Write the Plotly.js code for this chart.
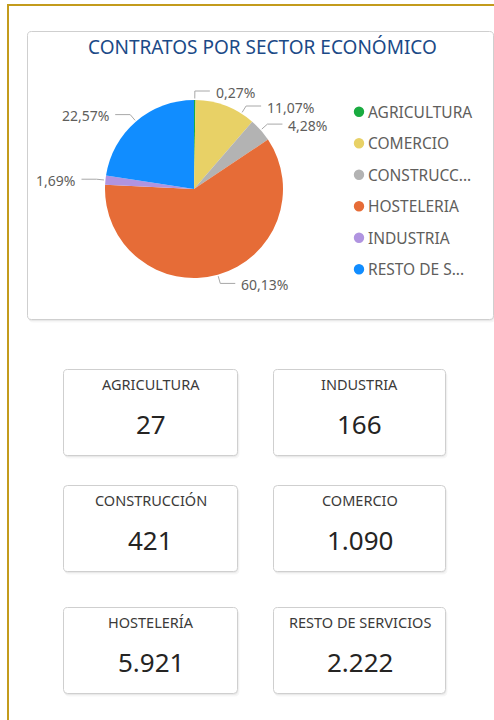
<!DOCTYPE html>
<html>
<head>
<meta charset="utf-8">
<script src="https://cdn.plot.ly/plotly-3.0.1.min.js"></script>
<style>
  html, body { margin: 0; padding: 0; background: #ffffff; }
  #chart { width: 494px; height: 720px; }
</style>
</head>
<body>
<div id="chart"></div>
<script>
// ---- DATA ----
const chartTitle = 'CONTRATOS POR SECTOR ECONÓMICO';
const sectors = ['AGRICULTURA', 'COMERCIO', 'CONSTRUCCIÓN', 'HOSTELERIA', 'INDUSTRIA', 'RESTO DE SERVICIOS'];
const legendText = ['AGRICULTURA', 'COMERCIO', 'CONSTRUCC...', 'HOSTELERIA', 'INDUSTRIA', 'RESTO DE S...'];
const contracts = [27, 1090, 421, 5921, 166, 2222];
const sectorColors = ['#1AAB40', '#E8D166', '#B3B3B3', '#E66C37', '#B094E0', '#118DFF'];
const cardTitles = ['AGRICULTURA', 'INDUSTRIA', 'CONSTRUCCIÓN', 'COMERCIO', 'HOSTELERÍA', 'RESTO DE SERVICIOS'];
const cardSector = ['AGRICULTURA', 'INDUSTRIA', 'CONSTRUCCIÓN', 'COMERCIO', 'HOSTELERIA', 'RESTO DE SERVICIOS'];

// ---- LAYOUT HELPERS (pixels -> paper) ----
const W = 494, H = 720;
const px = x => x / W;
const py = y => 1 - y / H;
const FONT = 'Noto Sans, Open Sans, sans-serif';

function fmtInt(n) {
  return String(n).replace(/\B(?=(\d{3})+(?!\d))/g, '.');
}
function rr(x0, y0, x1, y1, r) {
  const P = (x, y) => px(x).toFixed(6) + ',' + py(y).toFixed(6);
  return 'M' + P(x0 + r, y0) + ' L' + P(x1 - r, y0) + ' Q' + P(x1, y0) + ' ' + P(x1, y0 + r) +
    ' L' + P(x1, y1 - r) + ' Q' + P(x1, y1) + ' ' + P(x1 - r, y1) +
    ' L' + P(x0 + r, y1) + ' Q' + P(x0, y1) + ' ' + P(x0, y1 - r) +
    ' L' + P(x0, y0 + r) + ' Q' + P(x0, y0) + ' ' + P(x0 + r, y0) + ' Z';
}

const shapes = [];
const annotations = [];

// outer gold frame
shapes.push({type: 'rect', xref: 'paper', yref: 'paper', layer: 'below',
  x0: px(8), x1: px(W + 20), y0: py(H + 20), y1: py(5),
  line: {color: '#C39B1C', width: 2}, fillcolor: 'rgba(0,0,0,0)'});

// card with soft shadow
function card(x0, y0, x1, y1) {
  shapes.push({type: 'path', xref: 'paper', yref: 'paper', layer: 'below',
    path: rr(x0 + 1, y0 + 2, x1 + 2, y1 + 3, 5), fillcolor: 'rgba(0,0,0,0.035)', line: {width: 0}});
  shapes.push({type: 'path', xref: 'paper', yref: 'paper', layer: 'below',
    path: rr(x0, y0 + 1, x1 + 1, y1 + 1.5, 5), fillcolor: 'rgba(0,0,0,0.05)', line: {width: 0}});
  shapes.push({type: 'path', xref: 'paper', yref: 'paper', layer: 'below',
    path: rr(x0, y0, x1, y1, 4), fillcolor: '#ffffff', line: {color: '#CFCFCF', width: 1}});
}
card(27.5, 31.5, 493.5, 319.5);

// title
annotations.push({xref: 'paper', yref: 'paper', x: px(262), y: py(47), xanchor: 'center', yanchor: 'middle',
  text: chartTitle, showarrow: false, font: {family: FONT, size: 19, color: '#1B4A87'}});

// pie geometry
const cx = 194, cy = 189, R = 89;
const total = contracts.reduce((a, b) => a + b, 0);

// pie labels with leader lines
const re = R + 9, rs = R + 1.5, hLen = 15, gap = 4, minGap = 15;
let acc = 0;
const labs = contracts.map((v, i) => {
  const frac = v / total;
  const mid = (acc + frac / 2) * 360;
  acc += frac;
  const t = mid * Math.PI / 180;
  return {i, ang: mid, side: Math.sin(t) >= 0 ? 1 : -1,
    ey: cy - re * Math.cos(t), txt: (frac * 100).toFixed(2).replace('.', ',') + '%'};
});
[1, -1].forEach(side => {
  const arr = labs.filter(l => l.side === side).sort((a, b) => a.ey - b.ey);
  let prev = -Infinity;
  arr.forEach(l => {
    if (l.ey < prev + minGap) {
      l.ey = prev + minGap;
      const c = Math.max(-1, Math.min(1, (cy - l.ey) / re));
      const a = Math.acos(c) * 180 / Math.PI;
      l.ang = side > 0 ? a : 360 - a;
    }
    prev = l.ey;
  });
});
labs.forEach(l => {
  const t = l.ang * Math.PI / 180;
  const sx = cx + rs * Math.sin(t), sy = cy - rs * Math.cos(t);
  const ex = cx + re * Math.sin(t), ey = cy - re * Math.cos(t);
  const hx = ex + l.side * hLen;
  shapes.push({type: 'path', xref: 'paper', yref: 'paper',
    path: 'M' + px(sx) + ',' + py(sy) + ' L' + px(ex) + ',' + py(ey) + ' L' + px(hx) + ',' + py(ey),
    line: {color: '#A8A8A8', width: 1}});
  annotations.push({xref: 'paper', yref: 'paper', x: px(hx + l.side * gap), y: py(ey + 1),
    xanchor: l.side > 0 ? 'left' : 'right', yanchor: 'middle', showarrow: false, text: l.txt,
    font: {family: FONT, size: 14, color: '#605E5C'}});
});

// custom legend
const legX = 359, legY0 = 111.7, legStep = 31.5, dotR = 5.2;
legendText.forEach((t, i) => {
  const y = legY0 + i * legStep;
  shapes.push({type: 'circle', xref: 'paper', yref: 'paper',
    x0: px(legX - dotR), x1: px(legX + dotR), y0: py(y + dotR), y1: py(y - dotR),
    fillcolor: sectorColors[i], line: {width: 0}});
  annotations.push({xref: 'paper', yref: 'paper', x: px(legX + 7), y: py(y), xanchor: 'left', yanchor: 'middle',
    showarrow: false, text: t, font: {family: FONT, size: 15.5, color: '#605E5C'}});
});

// KPI cards
const colX = [[63.5, 237.5], [273.5, 445.5]];
const rowY = [369.5, 485.5, 607.5];
const cardH = 86;
cardTitles.forEach((t, k) => {
  const col = k % 2, row = Math.floor(k / 2);
  const [x0, x1] = colX[col];
  const y0 = rowY[row];
  card(x0, y0, x1, y0 + cardH);
  const xc = (x0 + x1) / 2;
  annotations.push({xref: 'paper', yref: 'paper', x: px(xc), y: py(y0 + 14), xanchor: 'center', yanchor: 'middle',
    showarrow: false, text: t, font: {family: FONT, size: 14.5, color: '#3B3A39'}});
  const v = contracts[sectors.indexOf(cardSector[k])];
  annotations.push({xref: 'paper', yref: 'paper', x: px(xc), y: py(y0 + 54), xanchor: 'center', yanchor: 'middle',
    showarrow: false, text: fmtInt(v), font: {family: FONT, size: 26, color: '#252423'}});
});

const data = [{
  type: 'pie',
  labels: sectors,
  values: contracts,
  sort: false,
  direction: 'clockwise',
  rotation: 0,
  marker: {colors: sectorColors, line: {width: 0}},
  textinfo: 'none',
  hoverinfo: 'label+value+percent',
  showlegend: false,
  domain: {x: [px(cx - R), px(cx + R)], y: [py(cy + R), py(cy - R)]}
}];

const layout = {
  width: W, height: H,
  margin: {l: 0, r: 0, t: 0, b: 0, pad: 0},
  paper_bgcolor: '#ffffff', plot_bgcolor: '#ffffff',
  showlegend: false,
  separators: ',.',
  shapes, annotations,
  font: {family: FONT}
};

Plotly.newPlot('chart', data, layout, {displayModeBar: false, staticPlot: true});
</script>
</body>
</html>
